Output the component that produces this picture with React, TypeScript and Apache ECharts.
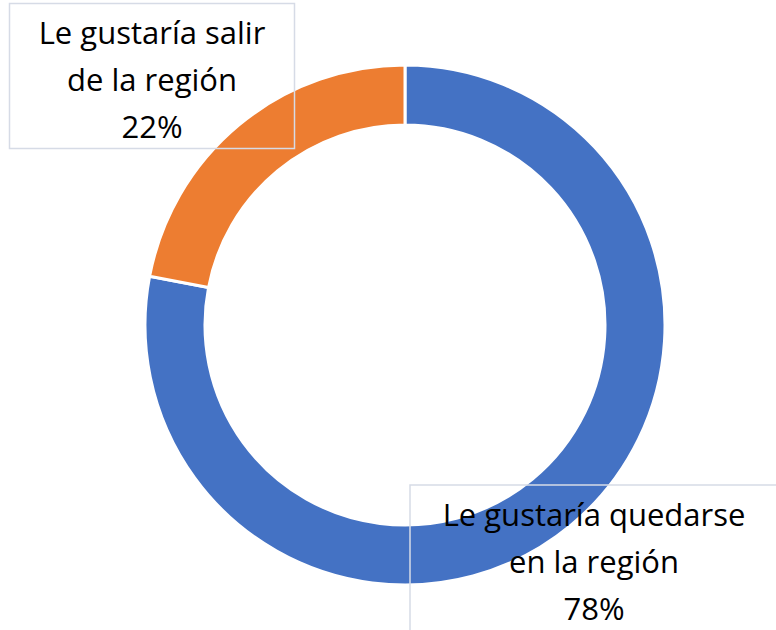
import React, { useEffect, useRef } from "react";
import * as echarts from "echarts";

const categories = ["Le gustaría quedarse\nen la región", "Le gustaría salir\nde la región"];
const values = [78, 22];
const colors = ["#4472C4", "#ED7D31"];

const labelCenters = [
  [594, 561],
  [152, 79],
];
const boxes = [
  { x: 410, y: 485, w: 368, h: 150 },
  { x: 9.5, y: 3.5, w: 285, h: 145 },
];

export default function App() {
  const ref = useRef<HTMLDivElement>(null);
  useEffect(() => {
    if (!ref.current) return;
    const chart = echarts.init(ref.current, null, { renderer: "svg" });
    chart.setOption({
      animation: false,
      graphic: boxes.map((b) => ({
        type: "rect",
        shape: { x: b.x, y: b.y, width: b.w, height: b.h },
        style: { fill: "none", stroke: "#D6DBE6", lineWidth: 1.5 },
        z: 10,
      })),
      series: [
        {
          type: "pie",
          center: [405, 325],
          radius: [200, 260],
          startAngle: 90,
          clockwise: true,
          avoidLabelOverlap: false,
          itemStyle: { borderColor: "#ffffff", borderWidth: 3 },
          label: {
            show: true,
            formatter: "{b}\n{d}%",
            fontFamily: "'Open Sans', sans-serif",
            fontSize: 31,
            lineHeight: 47,
            color: "#000000",
            align: "center",
          },
          labelLine: { show: false },
          labelLayout: (params: any) => ({
            x: labelCenters[params.dataIndex][0],
            y: labelCenters[params.dataIndex][1],
            align: "center",
            verticalAlign: "middle",
          }),
          data: categories.map((c, i) => ({
            name: c,
            value: values[i],
            itemStyle: { color: colors[i] },
          })),
        },
      ],
    });
    return () => chart.dispose();
  }, []);
  return <div ref={ref} style={{ width: 776, height: 630, position: "absolute", left: 0, top: 0 }} />;
}
